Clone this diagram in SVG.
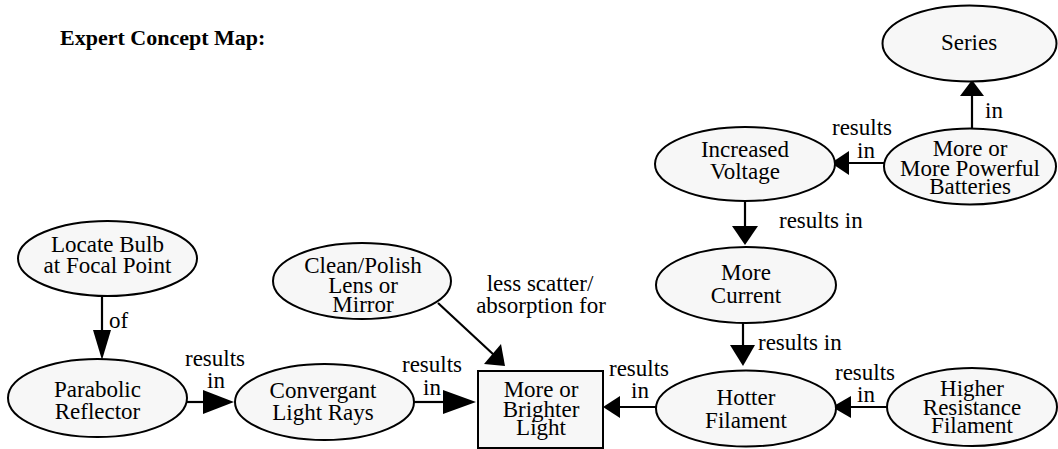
<svg xmlns="http://www.w3.org/2000/svg" width="1058" height="449" viewBox="0 0 1058 449" font-family="Liberation Serif, serif">
<style>
.n{fill:#f7f7f7;stroke:#000;stroke-width:2}
.t{font-family:'Liberation Serif',serif;font-size:23px;fill:#000;text-anchor:middle}
.l{font-family:'Liberation Serif',serif;font-size:23px;fill:#000}
.ti{font-family:'Liberation Serif',serif;font-size:22px;font-weight:bold;fill:#000}
.c{stroke:#000;stroke-width:2.2;fill:none}
.h{fill:#000;stroke:none}
</style>
<rect width="1058" height="449" fill="#fff"/>
<text class="ti" x="60" y="45">Expert Concept Map:</text>
<g id="connectors">
<line class="c" x1="102" y1="296" x2="102" y2="332"/>
<polygon class="h" points="93,330 111,330 102,360"/>
<text class="l" x="109" y="328">of</text>
<line class="c" x1="187" y1="402" x2="205" y2="402"/>
<polygon class="h" points="203,390 203,414 234,402"/>
<text class="t" x="215" y="366">results</text>
<text class="t" x="216" y="388">in</text>
<line class="c" x1="414" y1="402" x2="445" y2="402"/>
<polygon class="h" points="443,390 443,414 476,402"/>
<text class="t" x="432" y="372">results</text>
<text class="t" x="432" y="395">in</text>
<line class="c" x1="438" y1="303" x2="494" y2="355"/>
<polygon class="h" points="484,364 501,344 505,366"/>
<text class="t" x="540" y="291">less scatter/</text>
<text class="t" x="541" y="313">absorption for</text>
<line class="c" x1="618" y1="407" x2="657" y2="407"/>
<polygon class="h" points="620,396 620,418 603,407"/>
<text class="t" x="639" y="376">results</text>
<text class="t" x="640" y="398">in</text>
<line class="c" x1="743" y1="323" x2="743" y2="347"/>
<polygon class="h" points="730,345 755,345 743,366"/>
<text class="l" x="758" y="350">results in</text>
<line class="c" x1="745" y1="201" x2="745" y2="228"/>
<polygon class="h" points="732,226 758,226 745,245"/>
<text class="l" x="779" y="228">results in</text>
<line class="c" x1="847" y1="163" x2="884" y2="163"/>
<polygon class="h" points="849,151 849,175 831,163"/>
<text class="t" x="862" y="135">results</text>
<text class="t" x="866" y="158">in</text>
<line class="c" x1="972" y1="94" x2="972" y2="129"/>
<polygon class="h" points="960,96 984,96 972,80"/>
<text class="l" x="985" y="118">in</text>
<line class="c" x1="849" y1="407" x2="887" y2="407"/>
<polygon class="h" points="851,396 851,418 832,407"/>
<text class="t" x="865" y="380">results</text>
<text class="t" x="866" y="402">in</text>
</g>
<g id="series">
<ellipse class="n" cx="969.5" cy="43.5" rx="87" ry="38"/>
<text class="t" x="969" y="50">Series</text>
</g>
<g id="voltage">
<ellipse class="n" cx="745" cy="164" rx="90" ry="37"/>
<text class="t" x="745" y="157">Increased</text>
<text class="t" x="745" y="179">Voltage</text>
</g>
<g id="batteries">
<ellipse class="n" cx="970" cy="166.5" rx="86" ry="38"/>
<text class="t" x="970" y="156">More or</text>
<text class="t" x="970" y="175.5">More Powerful</text>
<text class="t" x="970" y="194">Batteries</text>
</g>
<g id="current">
<ellipse class="n" cx="746" cy="285" rx="90" ry="38"/>
<text class="t" x="746" y="280">More</text>
<text class="t" x="746" y="303">Current</text>
</g>
<g id="hotter">
<ellipse class="n" cx="746" cy="408.5" rx="90" ry="38"/>
<text class="t" x="746" y="405">Hotter</text>
<text class="t" x="746" y="428">Filament</text>
</g>
<g id="higher">
<ellipse class="n" cx="972" cy="407" rx="85" ry="39"/>
<text class="t" x="972" y="396">Higher</text>
<text class="t" x="972" y="415">Resistance</text>
<text class="t" x="972" y="433">Filament</text>
</g>
<g id="brighter">
<rect class="n" x="478" y="371" width="125" height="77"/>
<text class="t" x="541" y="397">More or</text>
<text class="t" x="541" y="417">Brighter</text>
<text class="t" x="541" y="435">Light</text>
</g>
<g id="convergant">
<ellipse class="n" cx="324.5" cy="402" rx="89.5" ry="38"/>
<text class="t" x="323" y="398">Convergant</text>
<text class="t" x="323" y="420">Light Rays</text>
</g>
<g id="clean">
<ellipse class="n" cx="362" cy="281" rx="89" ry="38"/>
<text class="t" x="363" y="273">Clean/Polish</text>
<text class="t" x="363" y="293">Lens or</text>
<text class="t" x="363" y="312">Mirror</text>
</g>
<g id="locate">
<ellipse class="n" cx="107.5" cy="258.5" rx="89.5" ry="37.5"/>
<text class="t" x="107.5" y="252">Locate Bulb</text>
<text class="t" x="107.5" y="273">at Focal Point</text>
</g>
<g id="parabolic">
<ellipse class="n" cx="97.5" cy="398" rx="89.5" ry="39"/>
<text class="t" x="97.5" y="397">Parabolic</text>
<text class="t" x="97.5" y="419">Reflector</text>
</g>
</svg>
